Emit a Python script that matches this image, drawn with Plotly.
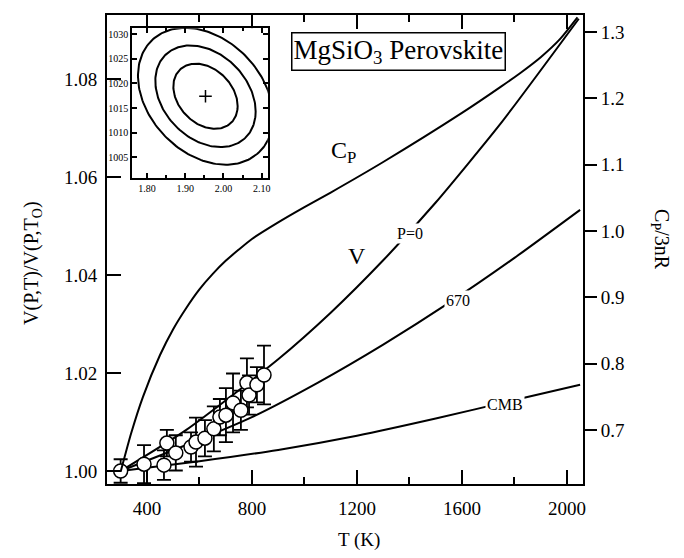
import numpy as np
import plotly.graph_objects as go

# ---------------- data ----------------
# measured points (T in K, V/V0) with error bars
T_data = [300, 389, 465, 476, 510, 568, 587, 621, 655, 678, 701, 728, 758, 781, 789, 819, 846]
V_data = [1.0000, 1.0014, 1.0012, 1.0057, 1.0037, 1.0049, 1.0059, 1.0067, 1.0086, 1.0110,
          1.0114, 1.0139, 1.0124, 1.0180, 1.0155, 1.0176, 1.0196]
V_err = [0.0024, 0.0039, 0.0030, 0.0027, 0.0036, 0.0030, 0.0050, 0.0037, 0.0046, 0.0037,
         0.0055, 0.0060, 0.0040, 0.0050, 0.0040, 0.0036, 0.0060]

# V curve at P=0
T_p0 = [300, 550, 900, 1100, 1300, 1500, 1750, 2045]
V_p0 = [1.000, 1.0084, 1.0228, 1.0323, 1.0430, 1.0548, 1.0711, 1.0923]

# V curve at 670 km
T_670 = [300, 550, 800, 1050, 1300, 1550, 1800, 2050]
V_670 = [1.000, 1.0053, 1.0110, 1.0180, 1.0258, 1.0343, 1.0435, 1.0533]

# V curve at CMB
T_cmb = [300, 600, 900, 1200, 1500, 1800, 2050]
V_cmb = [1.000, 1.0020, 1.0043, 1.0072, 1.0107, 1.0145, 1.0176]

# Cp/3nR curve (right axis)
T_cp = [300, 340, 385, 450, 500, 550, 600, 650, 700, 750, 800, 900, 1000, 1100, 1300,
        1600, 1750, 1825, 1900, 1975, 2040]
Cp = [0.637, 0.695, 0.750, 0.813, 0.852, 0.884, 0.912, 0.935, 0.955, 0.972, 0.988, 1.013,
      1.036, 1.058, 1.104, 1.178, 1.218, 1.239, 1.262, 1.290, 1.322]

# inset confidence ellipses
ell_center = (1.953, 1017.4)
ell_sx = 0.084
ell_sy = 6.6
ell_rho = -0.3
ell_levels = [1.0, 1.56, 2.1]

x_ticks = [400, 800, 1200, 1600, 2000]
yl_ticks = [1.00, 1.02, 1.04, 1.06, 1.08]
yr_ticks = [0.7, 0.8, 0.9, 1.0, 1.1, 1.2, 1.3]
inset_xticks = [1.80, 1.90, 2.00, 2.10]
inset_yticks = [1005, 1010, 1015, 1020, 1025, 1030]

FONT = "Liberation Serif, Times New Roman, serif"
BLK = "black"

fig = go.Figure()

line_style = dict(color=BLK, width=2, shape="spline", smoothing=0.6)

fig.add_trace(go.Scatter(x=T_cp, y=Cp, mode="lines", yaxis="y2", xaxis="x", line=line_style))
fig.add_trace(go.Scatter(x=T_p0, y=V_p0, mode="lines", line=line_style))
fig.add_trace(go.Scatter(x=T_670, y=V_670, mode="lines", line=line_style))
fig.add_trace(go.Scatter(x=T_cmb, y=V_cmb, mode="lines", line=line_style))

fig.add_trace(go.Scatter(
    x=T_data, y=V_data, mode="markers",
    marker=dict(symbol="circle", size=14, color="white", line=dict(color=BLK, width=1.5)),
    error_y=dict(type="data", array=V_err, color=BLK, thickness=1.8, width=7),
))

# inset ellipses
t = np.linspace(0, 2 * np.pi, 200)
for k in ell_levels:
    ex = ell_center[0] + k * ell_sx * np.cos(t)
    ey = ell_center[1] + k * ell_sy * (ell_rho * np.cos(t) + np.sqrt(1 - ell_rho ** 2) * np.sin(t))
    fig.add_trace(go.Scatter(x=ex, y=ey, mode="lines", line=dict(color=BLK, width=2),
                             xaxis="x3", yaxis="y3"))
fig.add_trace(go.Scatter(x=[ell_center[0]], y=[ell_center[1]], mode="markers",
                         marker=dict(symbol="cross-thin", size=9, line=dict(color=BLK, width=1.5)),
                         xaxis="x3", yaxis="y3"))

axis_common = dict(showline=True, linecolor=BLK, linewidth=2, showgrid=False, zeroline=False,
                   tickcolor=BLK, tickwidth=1.5, tickfont=dict(family=FONT, size=19, color=BLK))

fig.update_layout(
    width=684, height=558,
    margin=dict(l=107, r=101, t=15, b=74),
    paper_bgcolor="white", plot_bgcolor="white",
    showlegend=False,
    font=dict(family=FONT, color=BLK),
    xaxis=dict(**axis_common, range=[248, 2061], tickvals=x_ticks, ticks="inside", ticklen=14,
               mirror="ticks", ticklabelstandoff=6,
               minor=dict(dtick=200, tick0=0, ticks="inside", ticklen=7, tickcolor=BLK, tickwidth=1.5)),
    yaxis=dict(**axis_common, range=[0.99735, 1.09306], tickvals=yl_ticks, tickformat=".2f",
               ticks="inside", ticklen=14, mirror=True, ticklabelstandoff=4),
    yaxis2=dict(**axis_common, range=[0.6186, 1.3256], tickvals=yr_ticks, tickformat=".1f",
                ticks="outside", ticklen=12, overlaying="y", side="right", anchor="x"),
    xaxis3=dict(**axis_common, domain=[0.0525, 0.338], anchor="y3", range=[1.761, 2.116],
                tickvals=inset_xticks, tickformat=".2f", ticks="inside", ticklen=5, mirror="ticks",
                minor=dict(dtick=0.05, tick0=1.8, ticks="inside", ticklen=3, tickcolor=BLK)),
    yaxis3=dict(**axis_common, domain=[0.652, 0.972], anchor="x3", range=[1000.8, 1031.2],
                tickvals=inset_yticks, ticks="inside", ticklen=5, mirror="ticks"),
)
fig.update_layout(
    xaxis3_tickfont=dict(size=10, family=FONT, color=BLK),
    yaxis3_tickfont=dict(size=10, family=FONT, color=BLK),
    xaxis3_linewidth=1.5, yaxis3_linewidth=1.5,
)

ann = []
def label(x, y, text, size, xref="x", yref="y", bg=None, **kw):
    d = dict(x=x, y=y, xref=xref, yref=yref, text=text, showarrow=False,
             xanchor="center", yanchor="middle",
             font=dict(family=FONT, size=size, color=BLK))
    if bg:
        d["bgcolor"] = bg
    d.update(kw)
    ann.append(d)

label(1147, 1.0651, "C<sub>P</sub>", 24)
label(1200, 1.0439, "V", 24)
label(1402, 1.0484, "P=0", 16, bg="white")
label(1585, 1.0349, "670", 16, bg="white")
label(1764, 1.0135, "CMB", 16, bg="white")

# title box
label(0.612, 0.923, "MgSiO<sub>3</sub> Perovskite", 27, xref="paper", yref="paper",
      bordercolor=BLK, borderwidth=1.5, borderpad=1, bgcolor="white")

# axis titles
label(-0.158, 0.471, "V(P,T)/V(P,T<sub>O</sub>)", 20, xref="paper", yref="paper", textangle=-90)
label(1.164, 0.522, "C<sub>P</sub>/3nR", 20, xref="paper", yref="paper", textangle=90)
label(0.53, -0.12, "T (K)", 19, xref="paper", yref="paper")

fig.update_layout(annotations=ann)

fig.write_html("out.html")
